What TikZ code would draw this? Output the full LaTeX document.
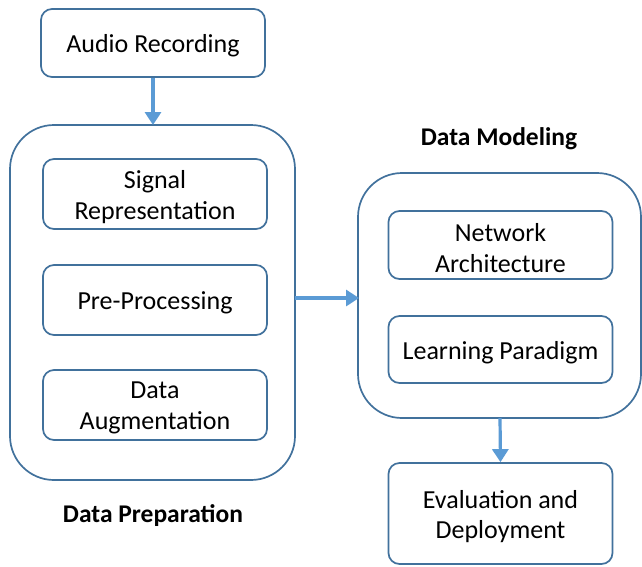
\documentclass[tikz,border=0pt]{standalone}
\usepackage{fontspec}
\setmainfont{Carlito}
\usetikzlibrary{arrows.meta}
\definecolor{boxline}{HTML}{41719C}
\definecolor{arrowc}{HTML}{5B9BD5}
\begin{document}
\begin{tikzpicture}[x=1pt,y=-1pt,
  inner/.style={draw=boxline,line width=1.7pt,rounded corners=11pt,fill=white,
     minimum width=224pt,inner sep=0pt},
  txt/.style={align=center,inner sep=0pt,yshift=-3pt,font=\fontsize{26}{30.5}\selectfont},
  cont/.style={draw=boxline,line width=1.7pt,rounded corners=44pt},
  flow/.style={draw=arrowc,line width=3.2pt,-{Triangle[length=13pt,width=16pt]}},
  lbl/.style={font=\fontsize{25.5}{28}\selectfont\bfseries}]
\useasboundingbox (0,0) rectangle (642,566);
\fill[white] (0,0) rectangle (642,566);
\node[inner,minimum height=68pt,label={[txt]center:{Audio Recording}}] (audio) at (153,43) {};
\draw[cont] (10,125) rectangle (295,480);
\coordinate (prepTop) at (153,125);
\coordinate (prepRight) at (295,298);
\node[inner,minimum height=70pt,label={[txt]center:{Signal\\Representation}}] (sig) at (155,194) {};
\node[inner,minimum height=70pt,label={[txt]center:{Pre-Processing}}] (pre) at (155,300) {};
\node[inner,minimum height=70pt,label={[txt]center:{Data\\Augmentation}}] (aug) at (155,405) {};
\node[lbl] (prepl) at (153,516) {Data Preparation};
\draw[cont] (358,173) rectangle (641,418);
\coordinate (modLeft) at (359,298);
\coordinate (modBottom) at (500,418);
\node[lbl] (modl) at (499,139) {Data Modeling};
\node[inner,minimum height=68pt,label={[txt]center:{Network\\Architecture}}] (net) at (500.5,245) {};
\node[inner,minimum height=67pt,label={[txt]center:{Learning Paradigm}}] (learn) at (500.5,349.5) {};
\node[inner,minimum height=101pt,label={[txt]center:{Evaluation and\\Deployment}}] (eval) at (500.5,513.5) {};
\draw[flow] (audio.south) -- (prepTop);
\draw[flow] (prepRight) -- (modLeft);
\draw[flow] (modBottom) -- (eval.north);
\end{tikzpicture}
\end{document}
